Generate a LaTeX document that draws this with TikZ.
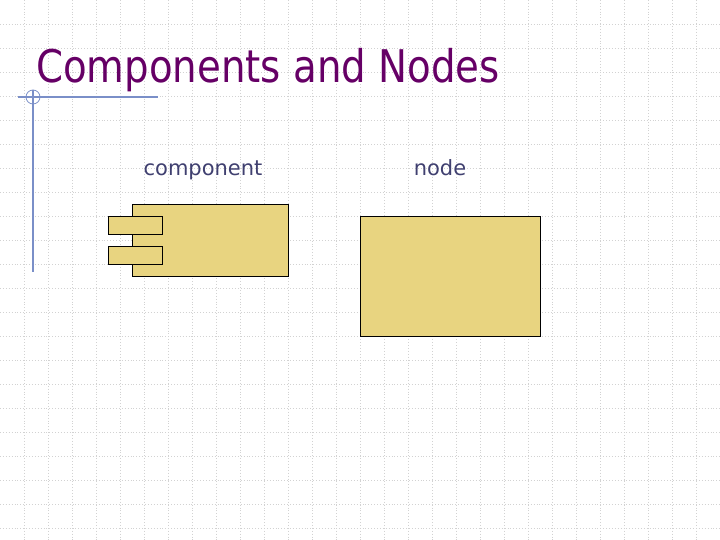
\documentclass[tikz,border=0pt]{standalone}
\usepackage{fontspec}
\setmainfont{DejaVu Sans}
\definecolor{titlec}{RGB}{102,0,102}
\definecolor{labelc}{RGB}{64,64,112}
\definecolor{rulec}{RGB}{122,143,200}
\definecolor{boxfill}{RGB}{232,212,128}
\definecolor{gridc}{RGB}{210,210,210}
\tikzset{
  box/.style={draw=black, line width=1.2pt, fill=boxfill, inner sep=0pt, anchor=north west},
  lbl/.style={text=labelc, font=\fontsize{21}{24}\selectfont, inner sep=0pt},
  rule/.style={draw=rulec, line width=1.1pt}
}
\begin{document}
\begin{tikzpicture}[x=1pt,y=-1pt]
\useasboundingbox[fill=white] (0,0) rectangle (720,540);
\foreach \i in {1,...,29} \draw[gridc, dotted, line width=0.9pt] (\i*24,0) -- (\i*24,540);
\foreach \j in {1,...,22} \draw[gridc, dotted, line width=0.9pt] (0,\j*24) -- (720,\j*24);
% title
\node[anchor=base west, inner sep=0pt, text=titlec, font=\fontsize{45}{50}\selectfont] (title) at (36,83) {\scalebox{0.86}[1]{Components and Nodes}};
% decoration rule
\coordinate (hl) at (18,97);
\coordinate (hr) at (158,97);
\coordinate (vt) at (33,90);
\coordinate (vb) at (33,272);
\draw[rule] (hl) -- (hr);
\draw[rule] (vt) -- (vb);
\draw[rule, line width=0.8pt] (33,97) circle (7);
% labels
\node[lbl, anchor=base] (lcomp) at (203,176) {component};
\node[lbl, anchor=base] (lnode) at (440,176) {node};
% component
\node[box, minimum width=156, minimum height=72] (comp) at (132,204) {};
\node[box, minimum width=54, minimum height=18] (p1) at (108,216) {};
\node[box, minimum width=54, minimum height=18] (p2) at (108,246) {};
% node
\node[box, minimum width=180, minimum height=120] (nd) at (360,216) {};
\end{tikzpicture}
\end{document}
